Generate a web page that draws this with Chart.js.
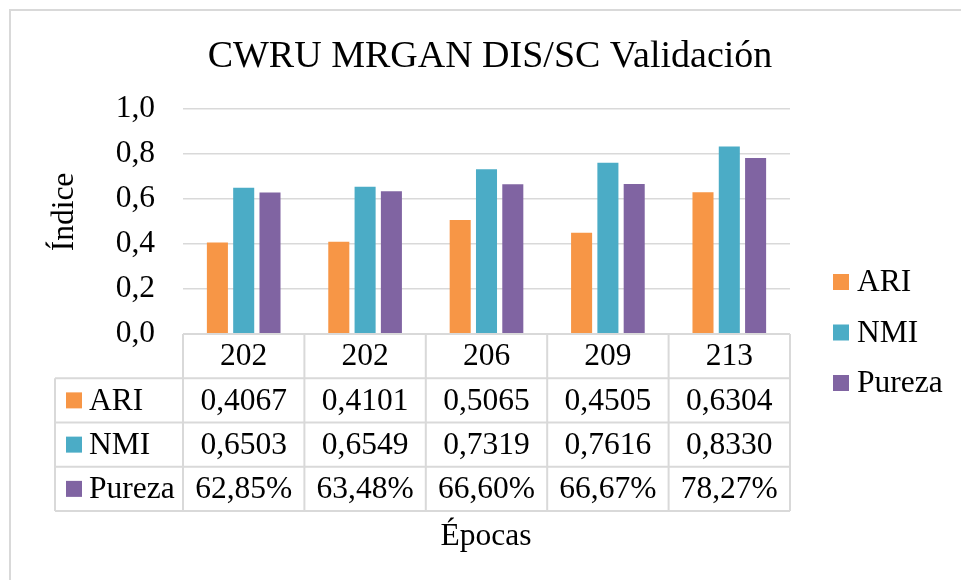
<!DOCTYPE html>
<html>
<head>
<meta charset="utf-8">
<script src="https://cdn.jsdelivr.net/npm/chart.js@4/dist/chart.umd.min.js"></script>
<style>
  html, body { margin: 0; padding: 0; background: #ffffff; }
  canvas { display: block; }
</style>
</head>
<body>
<canvas id="chart" width="961" height="580"></canvas>
<script>
// Epoch categories and the three clustering metrics per run
const epochs = ['202', '202', '206', '209', '213'];
const ari    = [0.4067, 0.4101, 0.5065, 0.4505, 0.6304];
const nmi    = [0.6503, 0.6549, 0.7319, 0.7616, 0.8330];
const pureza = [0.6285, 0.6348, 0.6660, 0.6667, 0.7827];

const seriesNames  = ['ARI', 'NMI', 'Pureza'];
const seriesColors = ['#F79646', '#4BACC6', '#8064A2'];
const yTicks = [0, 0.2, 0.4, 0.6, 0.8, 1.0];

const titleText = 'CWRU MRGAN DIS/SC Validación';
const yTitle = 'Índice';
const xTitle = 'Épocas';

const FONT = "'Liberation Serif', 'Times New Roman', serif";
const TEXT_SIZE = 31.5;
const GRID = '#d9d9d9';

const dec = v => v.toFixed(4).replace('.', ',');
const pct = v => (Math.round(v * 10000) / 100).toFixed(2).replace('.', ',') + '%';

// Rows of the data table under the plot
const tableRows = [
  { name: seriesNames[0], color: seriesColors[0], cells: ari.map(dec) },
  { name: seriesNames[1], color: seriesColors[1], cells: nmi.map(dec) },
  { name: seriesNames[2], color: seriesColors[2], cells: pureza.map(pct) }
];

// Draws frame, title, axis titles, legend and the data table
const decorations = {
  id: 'decorations',
  afterDraw(chart) {
    const c = chart.ctx;
    const area = chart.chartArea;
    const xs = chart.scales.x;
    const n = epochs.length;
    const colW = (area.right - area.left) / n;

    c.save();
    // outer frame
    c.strokeStyle = GRID;
    c.lineWidth = 2;
    c.strokeRect(10, 10, 1000, 600);

    c.fillStyle = '#000';
    // title
    c.font = `38px ${FONT}`;
    c.textAlign = 'center';
    c.textBaseline = 'alphabetic';
    c.fillText(titleText, 490, 67);

    // y axis title
    c.font = `${TEXT_SIZE}px ${FONT}`;
    c.save();
    c.translate(73, 212);
    c.rotate(-Math.PI / 2);
    c.fillText(yTitle, 0, 0);
    c.restore();

    // x axis title
    c.fillText(xTitle, 486, 545);

    // legend
    c.textAlign = 'left';
    c.textBaseline = 'middle';
    const legendY = [282, 332.5, 383];
    seriesNames.forEach((name, i) => {
      c.fillStyle = seriesColors[i];
      c.fillRect(833, legendY[i] - 8, 16, 16);
      c.fillStyle = '#000';
      c.fillText(name, 857, legendY[i] + 1);
    });

    // data table
    const top = area.bottom;
    const rowH = 44.25;
    const labelLeft = 55;
    const bottom = top + rowH * 4;
    c.strokeStyle = GRID;
    c.lineWidth = 2;
    c.beginPath();
    c.moveTo(area.left, top); c.lineTo(area.right, top);
    for (let r = 1; r <= 4; r++) {
      c.moveTo(labelLeft, top + rowH * r);
      c.lineTo(area.right, top + rowH * r);
    }
    c.moveTo(labelLeft, top + rowH); c.lineTo(labelLeft, bottom);
    for (let i = 0; i <= n; i++) {
      const x = area.left + colW * i;
      c.moveTo(x, top); c.lineTo(x, bottom);
    }
    c.stroke();

    c.fillStyle = '#000';
    c.textAlign = 'center';
    c.textBaseline = 'middle';
    epochs.forEach((e, i) => {
      c.fillText(e, xs.getPixelForValue(i), top + rowH / 2 + 1);
    });
    tableRows.forEach((row, r) => {
      const cy = top + rowH * (r + 1) + rowH / 2;
      c.fillStyle = row.color;
      c.fillRect(66, cy - 8, 16, 16);
      c.fillStyle = '#000';
      c.textAlign = 'left';
      c.fillText(row.name, 89, cy + 1);
      c.textAlign = 'center';
      row.cells.forEach((t, i) => {
        c.fillText(t, xs.getPixelForValue(i), cy + 1);
      });
    });
    c.restore();
  }
};

new Chart(document.getElementById('chart'), {
  type: 'bar',
  data: {
    labels: epochs,
    datasets: [
      { label: seriesNames[0], data: ari,    backgroundColor: seriesColors[0] },
      { label: seriesNames[1], data: nmi,    backgroundColor: seriesColors[1] },
      { label: seriesNames[2], data: pureza, backgroundColor: seriesColors[2] }
    ]
  },
  options: {
    responsive: false,
    animation: false,
    devicePixelRatio: 1,
    layout: { padding: { top: 109, right: 171, bottom: 246, left: 0 } },
    datasets: { bar: { categoryPercentage: 0.65, barPercentage: 0.8 } },
    plugins: {
      legend: { display: false },
      title: { display: false },
      tooltip: { enabled: false }
    },
    scales: {
      x: { display: false },
      y: {
        min: 0,
        max: 1,
        afterBuildTicks(scale) { scale.ticks = yTicks.map(v => ({ value: v })); },
        afterFit(scale) { scale.width = 183; },
        ticks: {
          padding: 28,
          color: '#000',
          font: { family: FONT, size: TEXT_SIZE },
          callback: v => v.toFixed(1).replace('.', ',')
        },
        grid: { color: GRID, lineWidth: 1.5, drawTicks: false },
        border: { display: false }
      }
    }
  },
  plugins: [decorations]
});
</script>
</body>
</html>
